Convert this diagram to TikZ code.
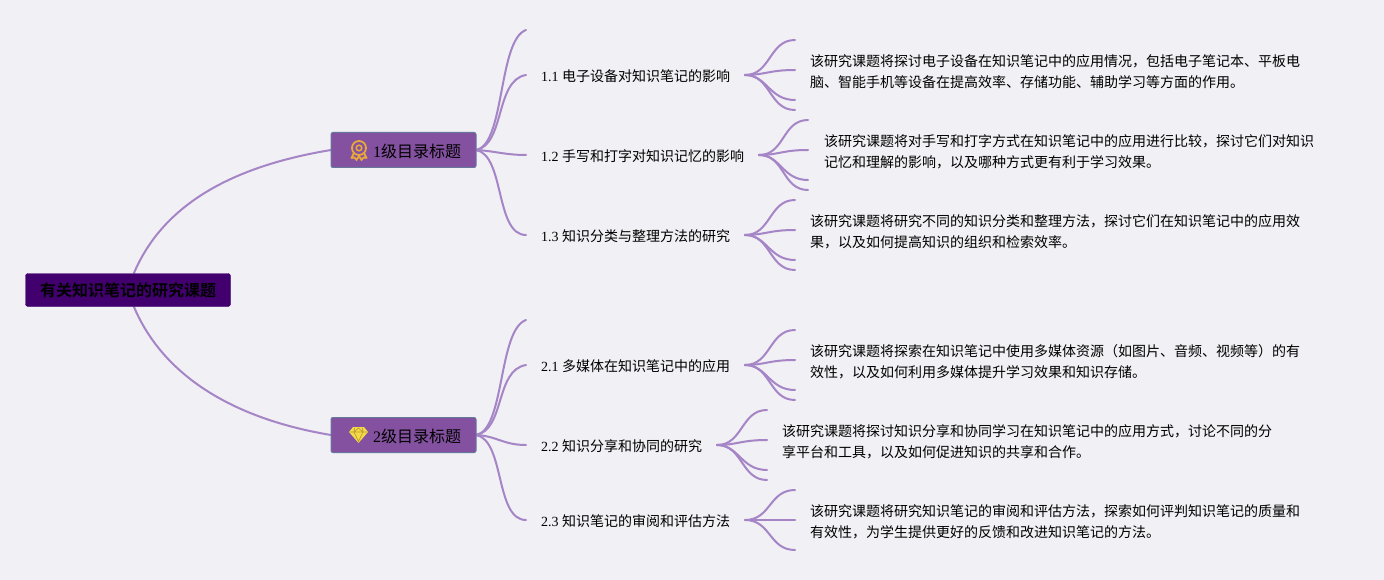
\documentclass[tikz,border=0pt]{standalone}
\usepackage{fontspec}
\setmainfont{Liberation Serif}
\newfontfamily\cjk{Noto Sans CJK SC}
\newfontfamily\cjkb{Noto Sans CJK SC Bold}
\definecolor{bgc}{HTML}{F0F0F5}
\definecolor{vio}{HTML}{A585C6}
\definecolor{rootc}{HTML}{42006F}
\definecolor{mainc}{HTML}{83519F}
\definecolor{edgec}{HTML}{66779B}
\definecolor{medal}{HTML}{E8A93A}
\definecolor{gem}{HTML}{F2DB4A}
\definecolor{gemline}{HTML}{C39A32}
\usetikzlibrary{calc}
\tikzset{
 x=1pt,y=-1pt,
 conn/.style={draw=vio,line width=2pt,line cap=round},
 rootbox/.style={draw=rootc,fill=rootc,rounded corners=2.5pt,minimum width=205pt,minimum height=33pt,inner sep=0pt,font=\cjk\fontsize{16}{18}\selectfont,text=black},
 mainbox/.style={draw=edgec,line width=1pt,fill=mainc,rounded corners=2pt,minimum width=145pt,minimum height=35pt,inner sep=0pt},
 sublabel/.style={anchor=west,inner sep=0pt,font=\fontsize{14}{17}\selectfont,text=black},
 leaftext/.style={anchor=north west,inner sep=0pt,align=left,font=\fontsize{14}{21}\selectfont,text=black},
 maintext/.style={anchor=west,inner sep=0pt,font=\fontsize{16}{18}\selectfont,text=black},
}
\newcommand{\hz}[1]{{\cjk #1}}
\begin{document}
\begin{tikzpicture}
\useasboundingbox (0,0) rectangle (1384,580);
\fill[bgc] (0,0) rectangle (1384,580);
% anchors
\coordinate (rt) at (134,273);
\coordinate (rb) at (134,307);
\coordinate (m1l) at (331,150);
\coordinate (m2l) at (331,435);
\coordinate (m1r) at (476,150);
\coordinate (m2r) at (476,435);
\coordinate (a0) at (526,30);\coordinate (a1) at (526,75);\coordinate (a2) at (526,155);\coordinate (a3) at (526,235);
\coordinate (b0) at (526,320);\coordinate (b1) at (526,365);\coordinate (b2) at (526,445);\coordinate (b3) at (526,520);
\draw[conn] (rt) .. controls (165,200) and (240,165) .. (m1l);
\draw[conn] (rb) .. controls (165,380) and (240,420) .. (m2l);
\draw[conn] (m1r) .. controls (505,145) and (498,40) .. (a0);
\draw[conn] (m1r) .. controls (505,145) and (495,80) .. (a1);
\draw[conn] (m1r) .. controls (495,151) and (505,155) .. (a2);
\draw[conn] (m1r) .. controls (505,155) and (495,235) .. (a3);
\draw[conn] (m2r) .. controls (505,430) and (498,330) .. (b0);
\draw[conn] (m2r) .. controls (505,430) and (495,370) .. (b1);
\draw[conn] (m2r) .. controls (497,436) and (503,445) .. (b2);
\draw[conn] (m2r) .. controls (505,440) and (495,520) .. (b3);
% fans
\foreach \n/\ox/\oy/\ex/\ya/\yb/\yc/\yd in {
 f/745/75/795/40/70/100/110,
 g/759/155/808/120/150/180/190,
 h/745/235/795/200/230/260/270,
 i/745/365/795/330/360/390/400,
 j/717/445/767/410/440/470/480}{
 \coordinate (\n o) at (\ox,\oy);
 \coordinate (\n a) at (\ex,\ya);\coordinate (\n b) at (\ex,\yb);\coordinate (\n c) at (\ex,\yc);\coordinate (\n d) at (\ex,\yd);
 \draw[conn] (\n o) .. controls ($(\n o)+(26,0)$) and ($(\n a)+(-26,0)$) .. (\n a);
 \draw[conn] (\n o) .. controls ($(\n o)+(20,0)$) and ($(\n b)+(-26,0)$) .. (\n b);
 \draw[conn] (\n o) .. controls ($(\n o)+(22,0)$) and ($(\n c)+(-26,0)$) .. (\n c);
 \draw[conn] (\n o) .. controls ($(\n o)+(26,0)$) and ($(\n d)+(-26,0)$) .. (\n d);
}
\coordinate (ko) at (745,520);\coordinate (ka) at (795,490);\coordinate (kb) at (795,520);\coordinate (kc) at (795,550);
\draw[conn] (ko) .. controls (771,520) and (769,490) .. (ka);
\draw[conn] (ko) -- (kb);
\draw[conn] (ko) .. controls (771,520) and (769,550) .. (kc);
% boxes
\node[rootbox] (root) at (128,290) {\raisebox{-1pt}{\cjkb 有关知识笔记的研究课题}};
\node[mainbox] (m1) at (403.5,150) {};
\node[mainbox] (m2) at (403.5,435) {};
\node[maintext] (m1t) at (373,151) {1\hz{级目录标题}};
\node[maintext] (m2t) at (373,436) {2\hz{级目录标题}};
% medal
\begin{scope}[shift={(359,148)}]
 \draw[medal,line width=1.8pt] (0,0) circle (7);
 \draw[medal,line width=1.5pt] (0,0) circle (2.8);
 \draw[medal,line width=1.8pt,line join=round] (-5,5) -- (-7.5,10) -- (-4.5,9.5) -- (-2.5,12) -- (0,8) -- (2.5,12) -- (4.5,9.5) -- (7.5,10) -- (5,5);
\end{scope}
% gem
\begin{scope}[shift={(358.5,435)}]
 \fill[gem] (-5.5,-8) -- (5.5,-8) -- (9.5,-3) -- (0,8) -- (-9.5,-3) -- cycle;
 \draw[gemline,line width=.7pt] (-9,-3) -- (9,-3) (-4,-7) -- (-4.5,-3) -- (0,6.5) -- (4.5,-3) -- (4,-7) (0,-7) -- (-4.5,-3) (0,-7) -- (4.5,-3);
\end{scope}
% labels
\node[sublabel] (s1) at (541,76.5) {1.1 \hz{电子设备对知识笔记的影响}};
\node[sublabel] (s2) at (541,156.5) {1.2 \hz{手写和打字对知识记忆的影响}};
\node[sublabel] (s3) at (541,236.5) {1.3 \hz{知识分类与整理方法的研究}};
\node[sublabel] (s4) at (541,366.5) {2.1 \hz{多媒体在知识笔记中的应用}};
\node[sublabel] (s5) at (541,446.5) {2.2 \hz{知识分享和协同的研究}};
\node[sublabel] (s6) at (541,521.5) {2.3 \hz{知识笔记的审阅和评估方法}};
% leaves
\node[leaftext] (l1) at (810,54) {\cjk 该研究课题将探讨电子设备在知识笔记中的应用情况，包括电子笔记本、平板电\\\cjk 脑、智能手机等设备在提高效率、存储功能、辅助学习等方面的作用。};
\node[leaftext] (l2) at (824,134) {\cjk 该研究课题将对手写和打字方式在知识笔记中的应用进行比较，探讨它们对知识\\\cjk 记忆和理解的影响，以及哪种方式更有利于学习效果。};
\node[leaftext] (l3) at (810,214) {\cjk 该研究课题将研究不同的知识分类和整理方法，探讨它们在知识笔记中的应用效\\\cjk 果，以及如何提高知识的组织和检索效率。};
\node[leaftext] (l4) at (810,344) {\cjk 该研究课题将探索在知识笔记中使用多媒体资源（如图片、音频、视频等）的有\\\cjk 效性，以及如何利用多媒体提升学习效果和知识存储。};
\node[leaftext] (l5) at (782,424) {\cjk 该研究课题将探讨知识分享和协同学习在知识笔记中的应用方式，讨论不同的分\\\cjk 享平台和工具，以及如何促进知识的共享和合作。};
\node[leaftext] (l6) at (810,504) {\cjk 该研究课题将研究知识笔记的审阅和评估方法，探索如何评判知识笔记的质量和\\\cjk 有效性，为学生提供更好的反馈和改进知识笔记的方法。};
\end{tikzpicture}
\end{document}
